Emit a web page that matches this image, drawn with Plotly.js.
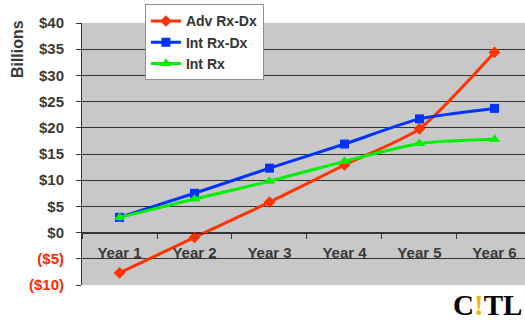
<!DOCTYPE html>
<html>
<head>
<meta charset="utf-8">
<script src="https://cdn.plot.ly/plotly-3.0.1.min.js"></script>
<style>
  html, body { margin: 0; padding: 0; background: #fff; }
  #chart { width: 525px; height: 322px; }
</style>
</head>
<body>
<div id="chart"></div>
<script>
// Market size projections, in billions of dollars
const years = ["Year 1", "Year 2", "Year 3", "Year 4", "Year 5", "Year 6"];
const advRxDx = [-7.7, -0.9, 5.8, 12.9, 19.8, 34.4];
const intRxDx = [2.9, 7.5, 12.3, 16.9, 21.7, 23.7];
const intRx = [2.9, 6.4, 9.8, 13.6, 17.0, 17.8];

const yTickVals = [-10, -5, 0, 5, 10, 15, 20, 25, 30, 35, 40];
const yTickText = yTickVals.map(v =>
  v < 0 ? '<span style="color:#FF2A00">($' + (-v) + ')</span>' : '$' + v
);

const fontFam = 'Liberation Sans, Arial, sans-serif';
const axisFont = { family: fontFam, size: 15, color: '#3a3a3a', weight: 'bold' };

function series(name, y, color, symbol, size) {
  return {
    type: 'scatter', mode: 'lines+markers', name: name,
    x: years, y: y,
    line: { color: color, width: 3, shape: 'spline', smoothing: 0.6 },
    marker: { color: color, symbol: symbol, size: size },
    cliponaxis: false
  };
}

const data = [
  series('Adv Rx-Dx', advRxDx, '#FF3300', 'diamond', 9),
  series('Int Rx-Dx', intRxDx, '#0033FF', 'square', 9),
  series('Int Rx', intRx, '#00F000', 'triangle-up', 10)
];

const layout = {
  width: 525, height: 322,
  margin: { l: 82, r: 0, t: 23, b: 37 },
  paper_bgcolor: '#ffffff',
  plot_bgcolor: '#C8C8C8',
  showlegend: true,
  legend: {
    x: 0.142, y: 1.071, xanchor: 'left', yanchor: 'top',
    bgcolor: '#ffffff', bordercolor: '#909090', borderwidth: 1,
    font: { family: fontFam, size: 14, color: '#333333', weight: 'bold' },
    tracegroupgap: 0, itemwidth: 30
  },
  xaxis: {
    type: 'category',
    range: [-0.5, 5.407],
    anchor: 'free', position: 0.2,
    showline: true, linecolor: '#333333', linewidth: 1,
    ticks: 'outside', ticklen: 5, tickcolor: '#333333', tickson: 'boundaries',
    ticklabelstandoff: 6,
    showgrid: false, zeroline: false,
    tickfont: axisFont, fixedrange: true
  },
  yaxis: {
    range: [-10, 40],
    tickvals: yTickVals, ticktext: yTickText,
    showline: true, linecolor: '#333333', linewidth: 1,
    ticks: 'outside', ticklen: 5, tickcolor: '#333333',
    ticklabelstandoff: 9,
    showgrid: true, gridcolor: '#333333', gridwidth: 1,
    zeroline: false,
    tickfont: axisFont, fixedrange: true
  },
  annotations: [
    {
      text: 'Billions', textangle: -90,
      xref: 'paper', yref: 'paper', x: -0.147, y: 0.90,
      xanchor: 'center', yanchor: 'middle', showarrow: false,
      font: { family: fontFam, size: 16, color: '#3a3a3a', weight: 'bold' }
    },
    {
      text: 'C<span style="color:#F2B400">!</span>TL',
      xref: 'paper', yref: 'paper', x: 0.915, y: -0.075,
      xanchor: 'center', yanchor: 'middle', showarrow: false,
      font: { family: 'Liberation Serif, Times New Roman, serif', size: 29, color: '#000000', weight: 'bold' }
    }
  ]
};

Plotly.newPlot('chart', data, layout, { displayModeBar: false, staticPlot: true });
</script>
</body>
</html>
